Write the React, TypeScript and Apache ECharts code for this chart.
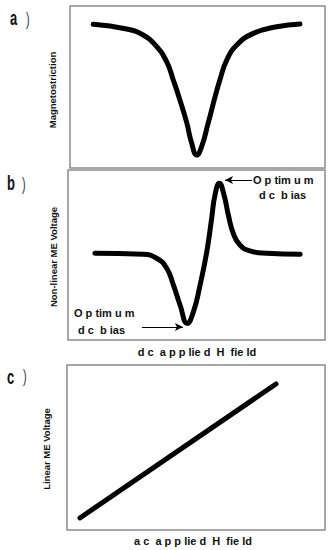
import React, { useEffect, useRef } from "react";
import * as echarts from "echarts";

// Panel a: magnetostriction vs dc field (axis units 0..100 across the box)
const fieldA = [9.1, 22.2, 28.7, 34.0, 37.9, 40.5, 43.1, 45.8, 47.7, 49.7, 51.6, 54.2, 56.9, 58.8, 61.5, 65.4, 71.9, 81.1, 90.2];
const magnetostriction = [88.7, 85.8, 82.1, 74.9, 65.6, 54.3, 42.0, 27.8, 15.4, 8.0, 13.1, 27.8, 44.0, 54.5, 66.7, 75.9, 83.1, 87.2, 88.9];

// Panel b: non-linear ME voltage vs dc field
const fieldB = [10.5, 29.3, 34.5, 38.4, 41.0, 43.6, 46.4, 48.8, 51.4, 54.0, 55.9, 57.2, 58.9, 60.7, 62.4, 64.3, 66.9, 70.8, 77.3, 90.3];
const nonLinearME = [51.0, 50.4, 48.1, 42.2, 32.4, 20.6, 9.8, 16.6, 32.4, 51.9, 71.6, 85.3, 92.2, 85.3, 73.5, 62.8, 55.9, 52.4, 51.0, 50.4];

// Panel c: linear ME voltage vs ac field
const fieldC = [5.0, 81.0];
const linearME = [7.3, 88.5];

// Annotation arrows in panel b (data coordinates)
const arrowUpper = [[71.6, 94.1], [61.1, 94.1]];
const arrowLower = [[28.8, 7.6], [44.7, 7.6]];

const zip = (xs: number[], ys: number[]) => xs.map((x, i) => [x, ys[i]]);

export default function App() {
  const ref = useRef<HTMLDivElement>(null);
  useEffect(() => {
    if (!ref.current) return;
    const chart = echarts.init(ref.current, null, { renderer: "svg" });
    const border = { show: true, borderColor: "#8a8a8a", borderWidth: 1.5, backgroundColor: "#fff" };
    const grids = [
      { left: 70, top: 6, width: 255, height: 162, ...border },
      { left: 68, top: 170, width: 257, height: 170, ...border },
      { left: 67, top: 365, width: 258, height: 165, ...border },
    ];
    const axis = (i: number) => ({
      type: "value" as const,
      gridIndex: i,
      min: 0,
      max: 100,
      show: false,
    });
    const font = "'Liberation Sans', Arial, sans-serif";
    const small = { fontFamily: font, fontWeight: "bold" as const, fontSize: 11, fill: "#111" };
    const yLab = { fontFamily: font, fontWeight: "bold" as const, fontSize: 9.5, fill: "#111", textAlign: "center" as const, textVerticalAlign: "middle" as const };
    const letter = (t: string, x: number, y: number) => ({
      type: "text", x, y, scaleX: 0.65, style: { text: t, fontFamily: font, fontWeight: "bold", fontSize: 20, fill: "#111", textVerticalAlign: "middle" },
    });
    const paren = (x: number, y: number) => ({
      type: "text", x, y, scaleX: 0.6, style: { text: ")", fontFamily: font, fontSize: 18, fill: "#333", textVerticalAlign: "middle" },
    });
    const lineSeries = (i: number, data: number[][]) => ({
      type: "line",
      xAxisIndex: i,
      yAxisIndex: i,
      data,
      smooth: 0.5,
      showSymbol: false,
      symbol: "none",
      lineStyle: { color: "#000", width: 5, cap: "round", join: "round" },
      silent: true,
    });
    chart.setOption({
      animation: false,
      grid: grids,
      xAxis: [axis(0), axis(1), axis(2)],
      yAxis: [axis(0), axis(1), axis(2)],
      series: [
        lineSeries(0, zip(fieldA, magnetostriction)),
        {
          ...lineSeries(1, zip(fieldB, nonLinearME)),
          markLine: {
            silent: true,
            symbol: ["none", "arrow"],
            symbolSize: [6, 8],
            label: { show: false },
            lineStyle: { color: "#000", width: 1, type: "solid" },
            data: [
              [{ coord: arrowUpper[0] }, { coord: arrowUpper[1] }],
              [{ coord: arrowLower[0] }, { coord: arrowLower[1] }],
            ],
          },
        },
        lineSeries(2, zip(fieldC, linearME)),
      ],
      graphic: [
        letter("a", 10, 18),
        paren(26, 19),
        letter("b", 7, 183),
        paren(22, 184),
        letter("c", 7, 377),
        paren(23, 376),
        { type: "text", x: 52, y: 90, rotation: Math.PI / 2, style: { text: "Magnetostriction", ...yLab } },
        { type: "text", x: 53, y: 257, rotation: Math.PI / 2, style: { text: "Non-linear ME Voltage", ...yLab } },
        { type: "text", x: 46, y: 449, rotation: Math.PI / 2, style: { text: "Linear ME Voltage", ...yLab } },
        { type: "text", x: 253, y: 180, style: { text: "O p tim u m", ...small, textVerticalAlign: "middle" } },
        { type: "text", x: 259, y: 195, style: { text: "d c  b ias", ...small, textVerticalAlign: "middle" } },
        { type: "text", x: 74, y: 313, style: { text: "O p tim u m", ...small, textVerticalAlign: "middle" } },
        { type: "text", x: 78, y: 330, style: { text: "d c  b ias", ...small, textVerticalAlign: "middle" } },
        { type: "text", x: 197, y: 352, style: { text: "d c  a p p lie d  H  fie ld", ...small, textAlign: "center", textVerticalAlign: "middle" } },
        { type: "text", x: 193, y: 541, style: { text: "a c  a p p lie d  H  fie ld", ...small, textAlign: "center", textVerticalAlign: "middle" } },
      ],
    });
    return () => chart.dispose();
  }, []);
  return <div ref={ref} style={{ position: "absolute", left: 0, top: 0, width: 331, height: 550, background: "#fff" }} />;
}
